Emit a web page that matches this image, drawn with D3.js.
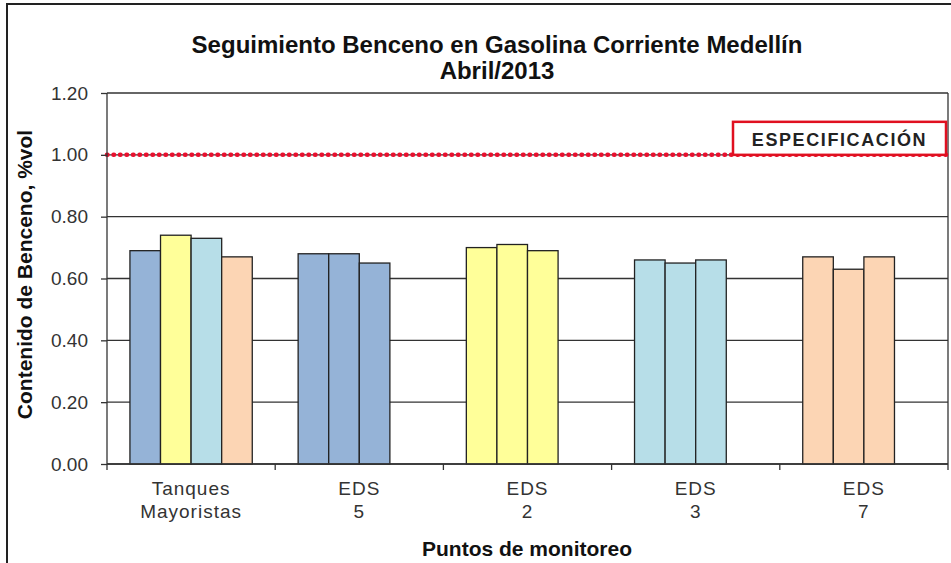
<!DOCTYPE html>
<html>
<head>
<meta charset="utf-8">
<script src="https://cdn.jsdelivr.net/npm/d3@7"></script>
<style>
  body { margin: 0; background: #fff; }
  svg { font-family: "Liberation Sans", Arial, sans-serif; }
</style>
</head>
<body>
<div id="chart"></div>
<script>
// Chart data
var categories = ["Tanques Mayoristas", "EDS 5", "EDS 2", "EDS 3", "EDS 7"];
var values = [
  [0.69, 0.74, 0.73, 0.67],
  [0.68, 0.68, 0.65],
  [0.70, 0.71, 0.69],
  [0.66, 0.65, 0.66],
  [0.67, 0.63, 0.67]
];
var barColors = ["#95b3d7", "#ffff99", "#b7dee8", "#fcd5b4"];
var yTicks = [0, 0.2, 0.4, 0.6, 0.8, 1.0, 1.2];
var specValue = 1.0;
var specLabel = "ESPECIFICACIÓN";

var W = 951, H = 563;
var margin = {top: 93, right: 3, bottom: 99, left: 107},
    width = W - margin.left - margin.right,
    height = H - margin.top - margin.bottom;

var root = d3.select("#chart").append("svg")
  .attr("width", W)
  .attr("height", H);

// outer chart frame (only top and left edges show)
root.append("rect")
  .attr("x", 7).attr("y", 4)
  .attr("width", W + 20).attr("height", H + 20)
  .attr("fill", "none")
  .attr("stroke", "#222")
  .attr("stroke-width", 2);

// title
root.append("text")
  .attr("x", 497).attr("y", 53)
  .attr("text-anchor", "middle")
  .attr("font-weight", "bold")
  .style("font-size", "24px")
  .attr("fill", "#111")
  .text("Seguimiento Benceno en Gasolina  Corriente Medellín");
root.append("text")
  .attr("x", 497).attr("y", 79)
  .attr("text-anchor", "middle")
  .attr("font-weight", "bold")
  .style("font-size", "24px")
  .attr("fill", "#111")
  .text("Abril/2013");

var svg = root.append("g")
  .attr("transform", "translate(" + margin.left + "," + margin.top + ")");

var xScale = d3.scaleBand()
  .domain(categories)
  .range([0, width])
  .padding(0);

// four bar slots per category, Excel-style gap of 150%
var xInner = d3.scaleBand()
  .domain([0, 1, 2, 3])
  .range([0, xScale.bandwidth()])
  .paddingInner(0)
  .paddingOuter(0.75);

var yScale = d3.scaleLinear()
  .domain([0, 1.2])
  .range([height, 0]);

// gridlines
svg.append("g")
  .selectAll("line")
  .data(yTicks)
  .enter().append("line")
  .attr("x1", 0).attr("x2", width)
  .attr("y1", function(d) { return yScale(d); })
  .attr("y2", function(d) { return yScale(d); })
  .attr("stroke", "#333")
  .attr("stroke-width", 1.3);

// right edge of plot area
svg.append("line")
  .attr("x1", width).attr("x2", width)
  .attr("y1", 0).attr("y2", height)
  .attr("stroke", "#333")
  .attr("stroke-width", 1.3);

// bars
var groups = svg.selectAll(".grp")
  .data(values)
  .enter().append("g")
  .attr("class", "grp")
  .attr("transform", function(d, i) { return "translate(" + xScale(categories[i]) + ",0)"; });

groups.selectAll("rect")
  .data(function(d, i) { return d.map(function(v, j) { return {v: v, j: j, g: i}; }); })
  .enter().append("rect")
  .attr("x", function(d) { return xInner(d.j); })
  .attr("y", function(d) { return yScale(d.v); })
  .attr("width", xInner.bandwidth())
  .attr("height", function(d) { return height - yScale(d.v); })
  .attr("fill", function(d) { return d.g === 0 ? barColors[d.j] : barColors[d.g - 1]; })
  .attr("stroke", "#222")
  .attr("stroke-width", 1.3);

// specification line
svg.append("line")
  .attr("x1", 0).attr("x2", width)
  .attr("y1", yScale(specValue)).attr("y2", yScale(specValue))
  .attr("stroke", "#e8102e")
  .attr("stroke-width", 4.5)
  .attr("stroke-linecap", "round")
  .attr("stroke-dasharray", "0.5,6");

// specification label box
var boxW = 213, boxH = 33;
svg.append("rect")
  .attr("x", width - boxW - 2)
  .attr("y", yScale(specValue) - boxH)
  .attr("width", boxW)
  .attr("height", boxH)
  .attr("fill", "#fff")
  .attr("stroke", "#e01020")
  .attr("stroke-width", 2.5);
svg.append("text")
  .attr("x", width - boxW / 2 - 2)
  .attr("y", yScale(specValue) - 9)
  .attr("text-anchor", "middle")
  .attr("font-weight", "bold")
  .style("font-size", "18px")
  .style("letter-spacing", "1.6px")
  .attr("fill", "#222")
  .text(specLabel);

// y axis
var yAxis = svg.append("g")
  .call(d3.axisLeft(yScale)
    .tickValues(yTicks)
    .tickSize(6)
    .tickPadding(13)
    .tickFormat(d3.format(".2f")));
yAxis.selectAll("line, path").attr("stroke", "#333").attr("stroke-width", 1.3);
yAxis.select(".domain").attr("d", "M0,0V" + height);
yAxis.selectAll("text")
  .style("font-size", "19px")
  .attr("fill", "#333")
  .attr("font-family", "Liberation Sans, Arial, sans-serif");

// x axis: ticks at category boundaries
var bounds = categories.map(function(c) { return xScale(c); }).concat([width]);
svg.append("g")
  .selectAll("line")
  .data(bounds)
  .enter().append("line")
  .attr("x1", function(d) { return d; }).attr("x2", function(d) { return d; })
  .attr("y1", height).attr("y2", height + 6)
  .attr("stroke", "#333")
  .attr("stroke-width", 1.3);
svg.append("line")
  .attr("x1", 0).attr("x2", width)
  .attr("y1", height).attr("y2", height)
  .attr("stroke", "#333")
  .attr("stroke-width", 1.3);

var xLabels = svg.append("g")
  .selectAll("text")
  .data(categories)
  .enter().append("text")
  .attr("x", function(d) { return xScale(d) + xScale.bandwidth() / 2; })
  .attr("y", height + 31)
  .attr("text-anchor", "middle")
  .style("font-size", "19px")
  .style("letter-spacing", "1px")
  .attr("fill", "#333");
xLabels.selectAll("tspan")
  .data(function(d) { return d.split(" "); })
  .enter().append("tspan")
  .attr("x", function() { return d3.select(this.parentNode).attr("x"); })
  .attr("dy", function(d, i) { return i === 0 ? 0 : 23; })
  .text(function(d) { return d; });

// axis titles
root.append("text")
  .attr("x", 527).attr("y", 556)
  .attr("text-anchor", "middle")
  .attr("font-weight", "bold")
  .style("font-size", "21px")
  .attr("fill", "#111")
  .text("Puntos de monitoreo");

root.append("text")
  .attr("transform", "translate(32," + (margin.top + height / 2 - 4) + ") rotate(-90)")
  .attr("text-anchor", "middle")
  .attr("font-weight", "bold")
  .style("font-size", "21px")
  .attr("fill", "#111")
  .text("Contenido de Benceno, %vol");
</script>
</body>
</html>
